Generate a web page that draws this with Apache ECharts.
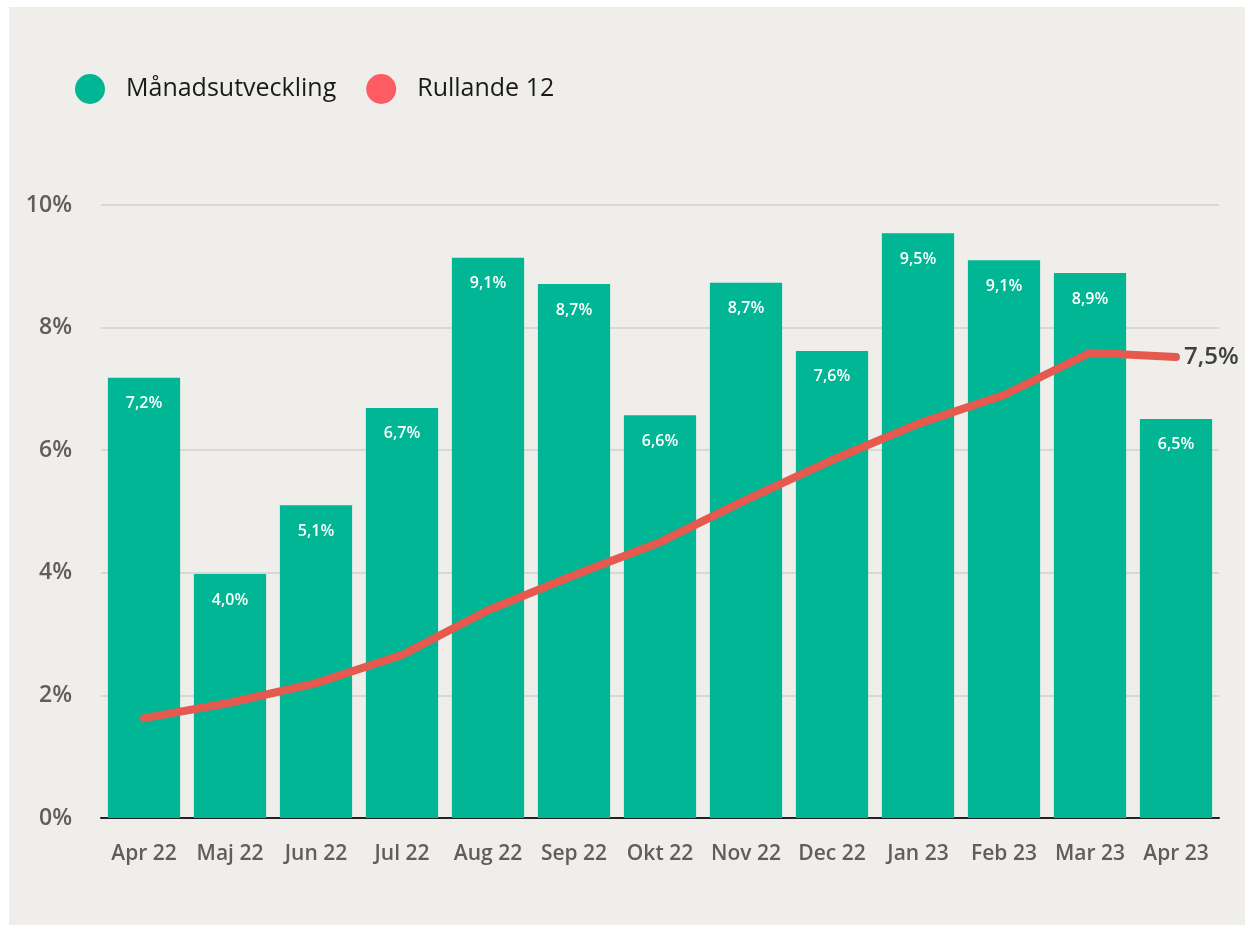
<!DOCTYPE html>
<html>
<head>
  <meta charset="utf-8">
  <title>Månadsutveckling och rullande 12</title>
  <style type="text/css">
    html, body { margin: 0; padding: 0; background: #ffffff; }
    #main { width: 1247px; height: 926px; }
  </style>
</head>
<body>
<div id="main"></div>
<script type="text/javascript" src="https://cdn.jsdelivr.net/npm/echarts@6/dist/echarts.min.js"></script>
<script type="text/javascript">
  // data
  var months = ['Apr 22', 'Maj 22', 'Jun 22', 'Jul 22', 'Aug 22', 'Sep 22', 'Okt 22',
                'Nov 22', 'Dec 22', 'Jan 23', 'Feb 23', 'Mar 23', 'Apr 23'];
  var monthly = [7.18, 3.98, 5.1, 6.69, 9.14, 8.71, 6.57, 8.73, 7.62, 9.54, 9.1, 8.89, 6.51];
  var rolling12 = [1.63, 1.88, 2.2, 2.66, 3.39, 3.96, 4.5, 5.19, 5.84, 6.43, 6.9, 7.59, 7.52];

  var fontFam = '"Open Sans", "Noto Sans", sans-serif';
  function pct(v) {
    return v.toFixed(1).replace('.', ',') + '%';
  }

  var myChart = echarts.init(document.getElementById('main'));

  option = {
    animation: false,
    graphic: [{
      type: 'rect',
      z: -10,
      shape: { x: 9, y: 7, width: 1236, height: 918 },
      style: { fill: '#EFEEEA' }
    }],
    legend: {
      left: 70,
      top: 69,
      icon: 'circle',
      itemWidth: 30,
      itemHeight: 30,
      itemGap: 30,
      textStyle: {
        fontFamily: fontFam,
        fontSize: 25,
        color: '#1a1a1a',
        padding: [0, 0, 0, 16]
      },
      data: [
        { name: 'Månadsutveckling', itemStyle: { color: '#00B694' } },
        { name: 'Rullande 12', itemStyle: { color: '#FD5C63' } }
      ]
    },
    grid: {
      left: 101,
      right: 28,
      top: 205,
      bottom: 108
    },
    xAxis: {
      type: 'category',
      data: months,
      axisTick: { show: false },
      axisLine: { lineStyle: { color: '#222222', width: 2 } },
      axisLabel: {
        interval: 0,
        margin: 26,
        fontFamily: fontFam,
        fontSize: 21,
        fontWeight: 600,
        color: '#605E5C'
      }
    },
    yAxis: {
      type: 'value',
      min: 0,
      max: 10,
      interval: 2,
      axisLine: { show: false },
      axisTick: { show: false },
      axisLabel: {
        margin: 29,
        fontFamily: fontFam,
        fontSize: 23,
        fontWeight: 600,
        color: '#605E5C',
        formatter: '{value}%'
      },
      splitLine: { lineStyle: { color: '#D8D8D6', width: 2 } }
    },
    series: [
      {
        name: 'Månadsutveckling',
        type: 'bar',
        data: monthly,
        barCategoryGap: '16%',
        itemStyle: { color: '#00B694' },
        label: {
          show: true,
          position: 'insideTop',
          distance: 18,
          fontFamily: fontFam,
          fontSize: 16,
          fontWeight: 600,
          color: '#ffffff',
          formatter: function (p) { return pct(p.value); }
        }
      },
      {
        name: 'Rullande 12',
        type: 'line',
        data: rolling12,
        symbol: 'none',
        z: 5,
        itemStyle: { color: '#FD5C63' },
        lineStyle: { color: '#E5594F', width: 8, cap: 'round', join: 'round' },
        endLabel: {
          show: true,
          distance: 8,
          fontFamily: fontFam,
          fontSize: 24,
          fontWeight: 600,
          color: '#404040',
          formatter: function (p) { return pct(p.value); }
        }
      }
    ]
  };

  myChart.setOption(option);
</script>
</body>
</html>
